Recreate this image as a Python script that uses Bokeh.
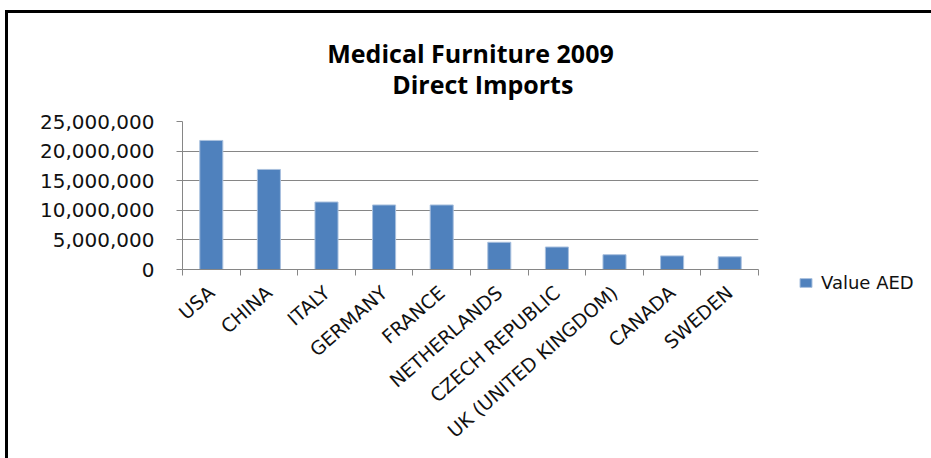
from bokeh.plotting import figure
from bokeh.models import (FixedTicker, NumeralTickFormatter, Legend, LegendItem,
                          Title, Range1d, ColumnDataSource)
from bokeh.embed import file_html
from bokeh.resources import INLINE

# ---- data ----
categories = ["USA", "CHINA", "ITALY", "GERMANY", "FRANCE", "NETHERLANDS",
              "CZECH REPUBLIC", "UK (UNITED KINGDOM)", "CANADA", "SWEDEN"]
values = [21800000, 16900000, 11400000, 10900000, 10900000, 4600000,
          3800000, 2500000, 2300000, 2150000]
y_ticks = [0, 5000000, 10000000, 15000000, 20000000, 25000000]
series_name = "Value AED"
title_lines = ["Medical Furniture 2009", "Direct Imports"]

n = len(categories)
centers = [i + 0.5 for i in range(n)]
boundaries = list(range(n + 1))

src = ColumnDataSource(dict(x=centers, top=values, cat=categories))

p = figure(frame_width=576, frame_height=148,
           x_range=Range1d(0, n), y_range=Range1d(y_ticks[0], y_ticks[-1]),
           output_backend="svg", toolbar_location=None,
           min_border_left=174, min_border_right=170,
           min_border_top=102, min_border_bottom=190)

p.margin = (10, 0, 0, 5)
p.styles = {"border-left": "3px solid #000000", "border-top": "3px solid #000000"}
p.border_fill_color = "white"
p.background_fill_color = "white"
p.outline_line_color = None

r = p.vbar(x="x", top="top", width=0.4, bottom=0, source=src,
           fill_color="#4F81BD", line_color="#A9C0DE", line_width=1)

# title: two lines in one block; second line indented (non-breaking spaces) to sit centred
title_text = title_lines[0] + "\n" + "\u00a0" * 10 + title_lines[1]
p.add_layout(Title(text=title_text, align="center", text_font="Open Sans",
                   text_font_size="25px", text_font_style="bold",
                   text_line_height=0.9,
                   text_color="#000000", standoff=41), "above")

axis_gray = "#868686"

# y axis
yax = p.yaxis[0]
yax.ticker = FixedTicker(ticks=y_ticks)
yax.formatter = NumeralTickFormatter(format="0,0")
yax.major_label_text_font = "DejaVu Sans"
yax.major_label_text_font_size = "20px"
yax.major_label_text_color = "#111111"
yax.axis_line_color = axis_gray
yax.major_tick_line_color = axis_gray
yax.major_tick_in = 0
yax.major_tick_out = 6
yax.minor_tick_line_color = None
yax.major_label_standoff = 22

# x axis
xax = p.xaxis[0]
xax.ticker = FixedTicker(ticks=centers, minor_ticks=boundaries)
xax.major_label_overrides = {c: name for c, name in zip(centers, categories)}
xax.major_label_orientation = 0.72
xax.major_label_text_font = "DejaVu Sans"
xax.major_label_text_font_size = "19px"
xax.major_label_text_color = "#111111"
xax.axis_line_color = axis_gray
xax.major_tick_in = 0
xax.major_tick_out = 0
xax.minor_tick_line_color = axis_gray
xax.minor_tick_in = 0
xax.minor_tick_out = 6
xax.major_label_standoff = 14

p.xgrid.visible = False
p.ygrid.grid_line_color = axis_gray
p.ygrid.grid_line_width = 1

legend = Legend(items=[LegendItem(label=series_name, renderers=[r])],
                location=(40, -24))
legend.border_line_color = None
legend.background_fill_alpha = 0
legend.padding = 0
legend.margin = 0
legend.glyph_width = 15
legend.glyph_height = 11
legend.label_standoff = 8
legend.label_text_font = "DejaVu Sans"
legend.label_text_font_size = "18px"
legend.label_text_color = "#111111"
p.add_layout(legend, "right")

open("out.html", "w").write(file_html(p, INLINE))
